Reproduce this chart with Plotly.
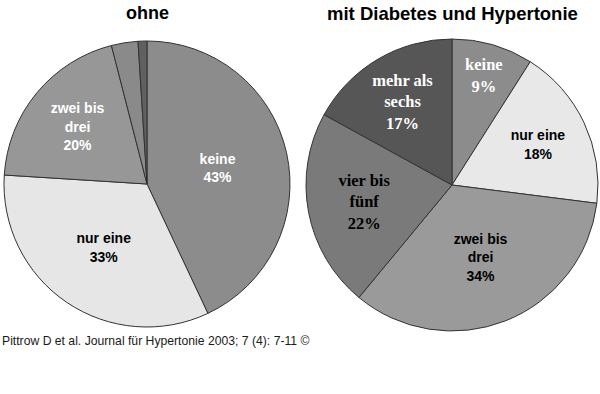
import plotly.graph_objects as go

left_labels = ["keine", "nur eine", "zwei bis drei", "vier bis fünf", "mehr als sechs"]
left_values = [43, 33, 20, 3, 1]
left_text = ["keine<br>43%", "nur eine<br>33%", "zwei bis<br>drei<br>20%", "", ""]
left_colors = ["#8c8c8c", "#e6e6e6", "#979797", "#8a8a8a", "#606060"]
left_textcolors = ["white", "black", "white", "white", "white"]

right_labels = ["keine", "nur eine", "zwei bis drei", "vier bis fünf", "mehr als sechs"]
right_values = [9, 18, 34, 22, 17]
right_text = ["keine<br>9%", "nur eine<br>18%", "zwei bis<br>drei<br>34%", "vier bis<br>fünf<br>22%", "mehr als<br>sechs<br>17%"]
right_colors = ["#8c8c8c", "#e8e8e8", "#9a9a9a", "#7a7a7a", "#565656"]
right_textcolors = ["white", "black", "black", "black", "white"]
right_fonts = ["Liberation Serif", "Liberation Sans", "Liberation Sans", "Liberation Serif", "Liberation Serif"]
right_sizes = [16.5, 14, 14, 16.5, 16.5]

titles = ["ohne", "mit Diabetes und Hypertonie"]
caption = "Pittrow D et al. Journal für Hypertonie 2003; 7 (4): 7-11 ©"

W, H = 600, 394

fig = go.Figure()
fig.add_trace(go.Pie(
    labels=left_labels, values=left_values, text=left_text,
    texttemplate="<b>%{text}</b>", textinfo="text",
    textposition="inside", insidetextorientation="horizontal",
    sort=False, direction="clockwise", rotation=0,
    marker=dict(colors=left_colors, line=dict(color="#333333", width=1)),
    textfont=dict(family="Liberation Sans", size=14, color=left_textcolors),
    domain=dict(x=[4 / W, 290 / W], y=[(H - 327) / H, (H - 41) / H]),
    showlegend=False, hoverinfo="skip",
))
fig.add_trace(go.Pie(
    labels=right_labels, values=right_values, text=right_text,
    texttemplate="<b>%{text}</b>", textinfo="text",
    textposition="inside", insidetextorientation="horizontal",
    sort=False, direction="clockwise", rotation=0,
    marker=dict(colors=right_colors, line=dict(color="#333333", width=1)),
    textfont=dict(family=right_fonts, size=right_sizes, color=right_textcolors),
    domain=dict(x=[306 / W, 598 / W], y=[(H - 331) / H, (H - 39) / H]),
    showlegend=False, hoverinfo="skip",
))

fig.add_annotation(text="<b>" + titles[0] + "</b>", x=147 / W, y=1 - 13 / H,
                   xanchor="center", yanchor="middle",
                   xref="paper", yref="paper", showarrow=False,
                   font=dict(family="Liberation Sans", size=18, color="black"))
fig.add_annotation(text="<b>" + titles[1] + "</b>", x=452 / W, y=1 - 13 / H,
                   xanchor="center", yanchor="middle",
                   xref="paper", yref="paper", showarrow=False,
                   font=dict(family="Liberation Sans", size=18.5, color="black"))
fig.add_annotation(text=caption, x=0, y=1 - 341 / H, xanchor="left", yanchor="middle",
                   xref="paper", yref="paper", showarrow=False,
                   font=dict(family="Liberation Sans", size=12.2, color="#1a1a1a"))

fig.update_layout(width=W, height=H, margin=dict(l=0, r=0, t=0, b=0),
                  paper_bgcolor="white", plot_bgcolor="white",
                  uniformtext=dict(minsize=13, mode="show"))
fig.write_html("out.html", config={"displayModeBar": False},
               post_script="document.body.style.margin='0';")
